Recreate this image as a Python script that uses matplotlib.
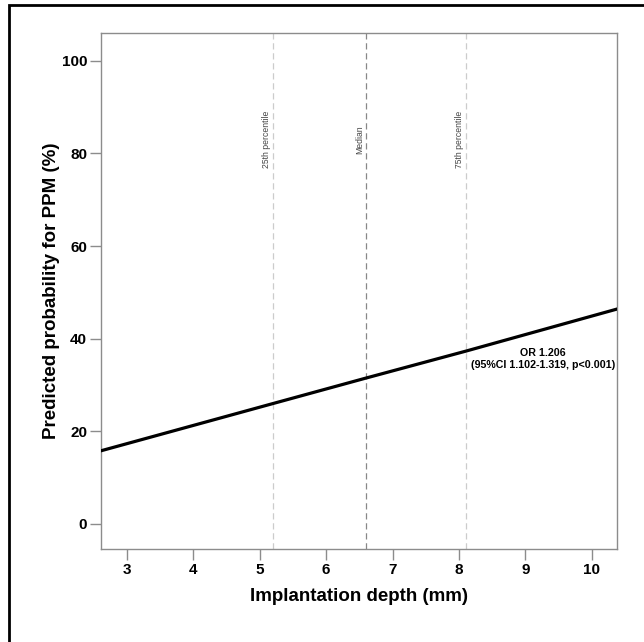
import matplotlib
matplotlib.use("Agg")
import matplotlib.pyplot as plt
from matplotlib.patches import Rectangle

plt.rcParams['font.family'] = ['Liberation Sans', 'DejaVu Sans']

# predicted probability curve
depth = [2.61, 5.2, 6.6, 8.1, 10.38]
prob = [15.8, 26.0, 31.5, 37.3, 46.4]

percentile_x = [5.2, 6.6, 8.1]
percentile_labels = ["25th percentile", "Median", "75th percentile"]
percentile_colors = ["#cccccc", "#888888", "#cccccc"]

x_ticks = [3, 4, 5, 6, 7, 8, 9, 10]
y_ticks = [0, 20, 40, 60, 80, 100]

or_text = "OR 1.206\n(95%CI 1.102-1.319, p<0.001)"

fig = plt.figure(figsize=(6.44, 6.42), dpi=100)
ax = fig.add_axes([0.1568, 0.1449, 0.8013, 0.8037])

for xv, lab, col in zip(percentile_x, percentile_labels, percentile_colors):
    ax.axvline(xv, color=col, lw=0.9, ls=(0, (5, 3)), zorder=1)
    ax.text(xv - 0.03, 83, lab, rotation=90, ha='right', va='center',
            fontsize=6.2, color='#444444')

ax.plot(depth, prob, color='black', lw=2.3, zorder=3)

ax.text(9.26, 37.9, or_text, ha='center', va='top', fontsize=7.7,
        fontweight='bold', linespacing=1.2)

ax.set_xlim(2.61, 10.38)
ax.set_ylim(-5.4, 106)
ax.set_xticks(x_ticks)
ax.set_yticks(y_ticks)

for s in ax.spines.values():
    s.set_color('#8c8c8c')
    s.set_linewidth(1)
ax.tick_params(direction='out', length=8, width=1, color='#8c8c8c',
               labelsize=11, pad=2)
for lab in ax.get_xticklabels() + ax.get_yticklabels():
    lab.set_fontweight('bold')

ax.set_xlabel("Implantation depth (mm)", fontsize=13.5, fontweight='bold', va='center')
ax.set_ylabel("Predicted probability for PPM (%)", fontsize=13.5, fontweight='bold', va='center')
ax.xaxis.set_label_coords(0.5, -0.093)
ax.yaxis.set_label_coords(-0.095, 0.5)

# outer frame around the figure (right/bottom run off the image)
fig.patches.append(Rectangle((8.5 / 644, -0.1), 1.2, 1.1 - 5.5 / 642,
                             transform=fig.transFigure, fill=False,
                             edgecolor='black', lw=2))

fig.savefig("out.png", dpi=100)
